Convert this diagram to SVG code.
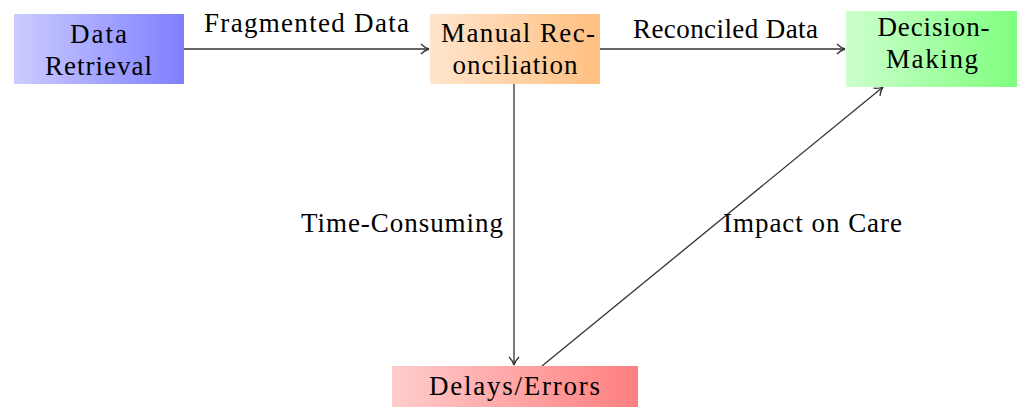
<svg xmlns="http://www.w3.org/2000/svg" width="1022" height="407" viewBox="0 0 1022 407">
  <style>
    text { font-family: "Liberation Serif", "DejaVu Serif", serif; font-size: 27px; fill: #000; }
    .mid { text-anchor: middle; }
    .edge { fill: none; stroke: #333; stroke-width: 1.3; marker-end: url(#arrow); }
  </style>
  <defs>
    <linearGradient id="gBlue" x1="0" y1="0" x2="1" y2="0">
      <stop offset="0" stop-color="#ccccff"/>
      <stop offset="1" stop-color="#7f7fff"/>
    </linearGradient>
    <linearGradient id="gOrange" x1="0" y1="0" x2="1" y2="0">
      <stop offset="0" stop-color="#ffe5cc"/>
      <stop offset="1" stop-color="#ffbf80"/>
    </linearGradient>
    <linearGradient id="gGreen" x1="0" y1="0" x2="1" y2="0">
      <stop offset="0" stop-color="#ccffcc"/>
      <stop offset="1" stop-color="#7fff7f"/>
    </linearGradient>
    <linearGradient id="gRed" x1="0" y1="0" x2="1" y2="0">
      <stop offset="0" stop-color="#ffcccc"/>
      <stop offset="1" stop-color="#ff7f7f"/>
    </linearGradient>
    <marker id="arrow" viewBox="0 0 10 12" refX="9" refY="6" markerWidth="10" markerHeight="12" markerUnits="userSpaceOnUse" orient="auto">
      <path d="M1,1 Q5,5 9,6 Q5,7 1,11" fill="none" stroke="#333" stroke-width="1.3"/>
    </marker>
  </defs>

  <!-- connectors -->
  <g id="connectors">
    <line class="edge" x1="184" y1="49" x2="429" y2="49"/>
    <line class="edge" x1="600" y1="49" x2="845" y2="49"/>
    <line class="edge" x1="514" y1="84" x2="514" y2="365"/>
    <line class="edge" x1="542" y1="366" x2="883" y2="87"/>
    <text x="306.5" y="32" class="mid" textLength="205">Fragmented Data</text>
    <text x="725.5" y="38" class="mid" textLength="185">Reconciled Data</text>
    <text x="503" y="232" text-anchor="end" textLength="202">Time-Consuming</text>
    <text x="723" y="232" textLength="179">Impact on Care</text>
  </g>

  <!-- nodes -->
  <g id="data-retrieval">
    <rect x="14" y="14" width="170" height="70" fill="url(#gBlue)"/>
    <text x="98.5" y="43" class="mid" textLength="57">Data</text>
    <text x="98.5" y="75" class="mid" textLength="107">Retrieval</text>
  </g>
  <g id="manual-reconciliation">
    <rect x="430" y="14" width="170" height="70" fill="url(#gOrange)"/>
    <text x="518" y="42" class="mid" textLength="154">Manual Rec-</text>
    <text x="515" y="74" class="mid" textLength="125">onciliation</text>
  </g>
  <g id="decision-making">
    <rect x="846" y="11" width="171" height="76" fill="url(#gGreen)"/>
    <text x="933.5" y="36" class="mid" textLength="112">Decision-</text>
    <text x="932" y="68" class="mid" textLength="92">Making</text>
  </g>
  <g id="delays-errors">
    <rect x="392" y="366" width="246" height="41" fill="url(#gRed)"/>
    <text x="514.5" y="395" class="mid" textLength="171">Delays/Errors</text>
  </g>
</svg>
